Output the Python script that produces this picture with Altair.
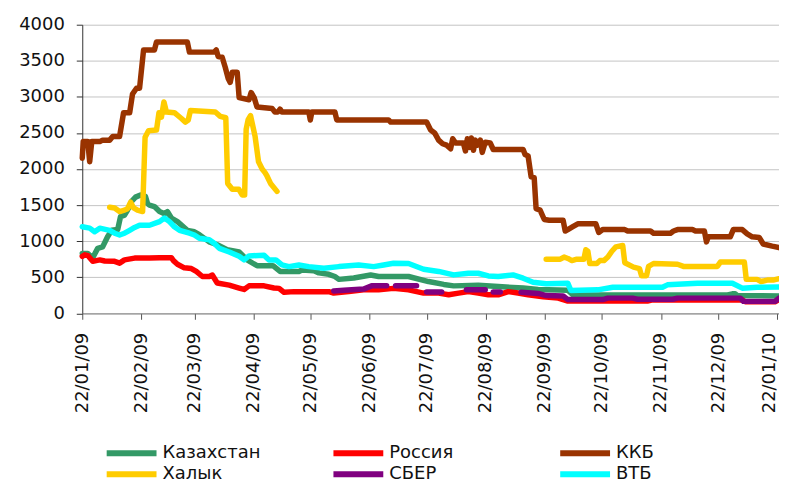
import altair as alt
import pandas as pd

series_names = ["Казахстан", "Россия", "ККБ", "Халык", "СБЕР", "ВТБ"]
series_colors = ["#339966", "#FF0000", "#993300", "#FFCC00", "#800080", "#00FFFF"]

# (days since 22/01/2009, value)
kaz = [(0,830),(2.9,830),(4.4,790),(5.5,770),(8.1,900),(10.7,920),(13.3,1060),(15.4,1150),(18.6,1160),
       (20.1,1340),(22.2,1360),(23.8,1430),(25.9,1550),(28,1610),(30.6,1640),(33.2,1620),(34.3,1520),
       (35.3,1500),(37.9,1480),(40.6,1410),(43.2,1380),(44.7,1410),(46.8,1320),(50,1270),(55.2,1150),
       (58.9,1130),(61.5,1090),(66.7,990),(70.9,950),(76.1,880),(82.4,850),(86.6,740),(91.8,660),
       (100.2,660),(103.9,580),(113.8,580),(115.4,600),(121.7,590),(124.3,560),(129.5,540),(132.7,510),
       (134.8,470),(142.6,490),(151.5,530),(155.7,510),(171.4,510),(181.9,440),(189.9,400),(195.1,380),
       (208,390),(218.5,370),(231.6,350),(239.5,330),(255.1,320),(257.7,255),(339,255),(341.5,270),
       (343,270),(344.1,245),(366,240)]

rus = [(0,790),(1.3,810),(2.9,800),(5.5,720),(9.2,740),(11.8,725),(17,720),(19.6,695),(22.2,740),
       (27.5,765),(35.3,765),(40.6,770),(46.8,770),(47.9,730),(50,680),(53.6,630),(57.3,620),(59.9,580),
       (63.1,510),(66.7,510),(68.3,530),(70.9,420),(77.2,390),(82.4,350),(85,330),(87.6,380),(95.5,380),
       (100.7,350),(103.4,345),(106,290),(111.2,300),(129.5,300),(132.1,280),(140,300),(147.8,325),
       (155.7,325),(163.5,345),(171.4,325),(179.3,280),(187.2,280),(192.5,256),(197.7,279),(202.8,300),
       (208,280),(213.3,256),(218.5,256),(223.8,300),(228.9,280),(234.2,256),(242.1,230),(250,210),
       (255.1,170),(296.9,170),(299.6,185),(346.7,185),(348.3,160),(363.9,160),(366,190)]

kkb = [(0,2150),(0.5,2380),(2.9,2380),(3.9,2100),(5,2380),(9.2,2380),(10.7,2400),(14.4,2400),(16,2450),
       (19.6,2450),(21.7,2780),(24.9,2780),(26.4,3040),(28.5,3120),(30.1,3120),(32.2,3650),(37.9,3650),
       (39,3760),(55.2,3760),(56.3,3620),(69.3,3620),(70.4,3650),(71.4,3560),(73.5,3550),(75.1,3410),
       (76.7,3250),(77.7,3200),(78.8,3340),(81.4,3340),(82.4,2990),(87.6,2960),(88.7,3060),(90.3,2990),
       (91.8,2860),(99.7,2840),(101.2,2790),(102.8,2790),(103.9,2830),(104.9,2790),(119,2790),(119.8,2680),
       (120.6,2790),(132.7,2790),(133.7,2680),(160.9,2680),(162,2650),(180.9,2650),(183,2540),(185.1,2500),
       (187.2,2400),(189.3,2350),(191.4,2330),(193.5,2280),(194.6,2420),(196.1,2360),(200.2,2360),
       (201.3,2250),(202.3,2420),(203.4,2300),(204.4,2430),(205.5,2260),(206.5,2400),(207.5,2330),
       (209.1,2400),(210.1,2230),(211.7,2370),(214.3,2360),(215.9,2270),(231.6,2270),(232.6,2200),
       (234.2,2180),(235.8,1890),(237.4,1880),(238.4,1450),(240.5,1430),(242.7,1300),(245.3,1290),
       (252.6,1290),(253.7,1140),(255.1,1160),(257.7,1200),(260.3,1240),(269.8,1240),(271.3,1120),
       (273.4,1160),(285,1160),(286.5,1140),(298.5,1140),(300.1,1110),(309,1110),(310.6,1140),(312.7,1160),
       (320.5,1160),(322.1,1140),(326.8,1140),(327.9,990),(328.9,1060),(340.4,1060),(342,1160),(346.7,1160),
       (349.3,1100),(351.9,1060),(355.6,1050),(357.7,960),(362.4,930),(366,910)]

halyk_a = [(14.4,1470),(17,1460),(19.6,1410),(22.2,1430),(23.8,1450),(25.4,1540),(27,1460),(29,1430),
           (31.7,1410),(33,2440),(34.8,2530),(39,2540),(40.3,2780),(41.6,2720),(42.9,2930),(44.2,2790),
           (48.4,2780),(52.1,2700),(54.2,2650),(55.7,2680),(56.8,2810),(69.9,2790),(72.5,2730),(75.4,2710),
           (76.4,1800),(78.8,1720),(82.2,1720),(84,1640),(85.3,1640),(86.1,2550),(87.1,2680),(88.4,2740),
           (90.8,2450),(92.6,2100),(94.5,2000),(96,1950),(97.1,1900),(98.9,1800),(102.3,1690)]
halyk_b = [(243.7,750),(251.1,750),(253.1,780),(255.1,760),(257.2,730),(259.8,750),(263.5,750),(264.5,880),
           (265.6,860),(266.6,690),(270.3,690),(271.9,730),(274,730),(276.1,780),(278.2,860),(280.3,920),
           (283.9,940),(285,700),(289.6,640),(292.7,620),(293.8,520),(296.4,520),(297.5,650),(300.1,690),
           (312.7,680),(315.8,650),(333.6,650),(335.2,710),(347.8,710),(348.8,470),(354.5,470),(356.6,440),
           (359.8,460),(362.9,460),(366,480)]

sber_segments = [
    [(132.1,310),(137.4,320),(147.8,335),(152,380),(159.9,380)],
    [(164.6,380),(175.6,380)],
    [(180.9,295),(188.8,295)],
    [(201.8,325),(211.7,325)],
    [(215.9,295),(219.6,295)],
    [(230.5,290),(239.5,275),(243.7,245),(252.6,240),(255.1,190),(273.4,190),(276.1,210),(289.1,210),
     (291.7,195),(310.1,195),(312.7,210),(345.7,210),(347.3,165),(363.9,165),(366,210)],
]

vtb = [(0,1200),(3.9,1180),(6.5,1130),(9.2,1180),(14.4,1150),(17,1110),(19.6,1085),(22.2,1110),(24.9,1150),
       (27.5,1190),(30.1,1220),(35.3,1220),(40.6,1270),(43.2,1320),(45.8,1270),(48.4,1200),(51.1,1150),
       (56.3,1110),(58.9,1085),(61.5,1040),(66.7,1020),(69.3,970),(72,900),(77.2,850),(82.4,790),(85,740),
       (87.6,795),(95.5,805),(98.1,740),(101.7,740),(104.9,670),(108.6,647),(113.8,670),(119,647),
       (126.9,624),(134.8,647),(145.2,670),(153.1,647),(158.3,670),(163.5,694),(171.4,690),(179.3,610),
       (187.2,580),(195.1,532),(202.8,555),(208,555),(213.3,518),(218.5,509),(226.3,532),(231.6,486),
       (236.8,430),(243.7,410),(255.1,415),(256.7,315),(270.8,325),(278.7,360),(304.8,360),(307.4,394),
       (323.2,417),(341.5,417),(346.7,348),(354.5,360),(366,365)]

tick_months = [(2009, m) for m in range(1, 13)] + [(2010, 1)]
y_ticks = [0, 500, 1000, 1500, 2000, 2500, 3000, 3500, 4000]

rows = []
def add(name, pts, seg=0):
    for d, v in pts:
        rows.append({"series": name, "seg": seg, "day": d, "value": v})

add("Казахстан", kaz)
add("Россия", rus)
add("ККБ", kkb)
add("Халык", halyk_a, 0)
add("Халык", halyk_b, 1)
for i, s in enumerate(sber_segments):
    add("СБЕР", s, i)
add("ВТБ", vtb)

df = pd.DataFrame(rows)
df["date"] = (pd.Timestamp("2009-01-22") + pd.to_timedelta(df["day"], unit="D")).dt.strftime("%Y-%m-%dT%H:%M:%S")
df = df.drop(columns=["day"])

FONT = "DejaVu Sans"
FS = 18

x_enc = alt.X(
    "date:T",
    scale=alt.Scale(domain=[alt.DateTime(year=2009, month=1, date=22), alt.DateTime(year=2010, month=1, date=23)]),
    axis=alt.Axis(
        values=[alt.DateTime(year=y, month=m, date=22) for y, m in tick_months],
        format="%d/%m/%y", labelAngle=-90, grid=False, title=None,
        tickSize=6, labelPadding=13, tickColor="#555555", domainColor="#888888",
        labelFont=FONT, labelFontSize=FS, labelColor="#111111",
        labelOffset={"condition": {"test": "datum.value > 1263000000000", "value": -8}, "value": 0},
    ),
)
y_enc = alt.Y(
    "value:Q",
    scale=alt.Scale(domain=[0, 4000], nice=False),
    axis=alt.Axis(
        values=y_ticks, format="d", title=None, grid=True, gridColor="#C4C4C4",
        tickSize=6, labelPadding=12, tickColor="#333333", domainColor="#333333",
        labelFont=FONT, labelFontSize=FS, labelColor="#111111",
    ),
)
color_enc = alt.Color(
    "series:N",
    scale=alt.Scale(domain=series_names, range=series_colors),
    legend=alt.Legend(
        title=None, orient="none", legendX=24.5, legendY=421, columns=3, direction="horizontal",
        symbolType="M-5,0L5,0", symbolSize=100, symbolStrokeWidth=6, symbolOffset=16,
        labelFont=FONT, labelFontSize=FS, labelColor="#111111", labelOffset=22,
        columnPadding=60.5, rowPadding=-7, gridAlign="all", labelLimit=300, padding=0,
    ),
)

base = alt.Chart(df).mark_line(strokeWidth=5.5, strokeCap="round", strokeJoin="round").encode(
    x=x_enc, y=y_enc, color=color_enc, detail="seg:N"
)

layers = [base.transform_filter(alt.datum.series == s) for s in series_names]

chart = alt.layer(*layers).properties(
    width=699, height=289.5,
    autosize=alt.AutoSizeParams(type="none"),
    padding={"left": 74.5, "top": 16, "right": 0, "bottom": 168.5},
).configure_view(stroke=None)

chart.save("out.html", embed_options={"renderer": "svg", "actions": False})
